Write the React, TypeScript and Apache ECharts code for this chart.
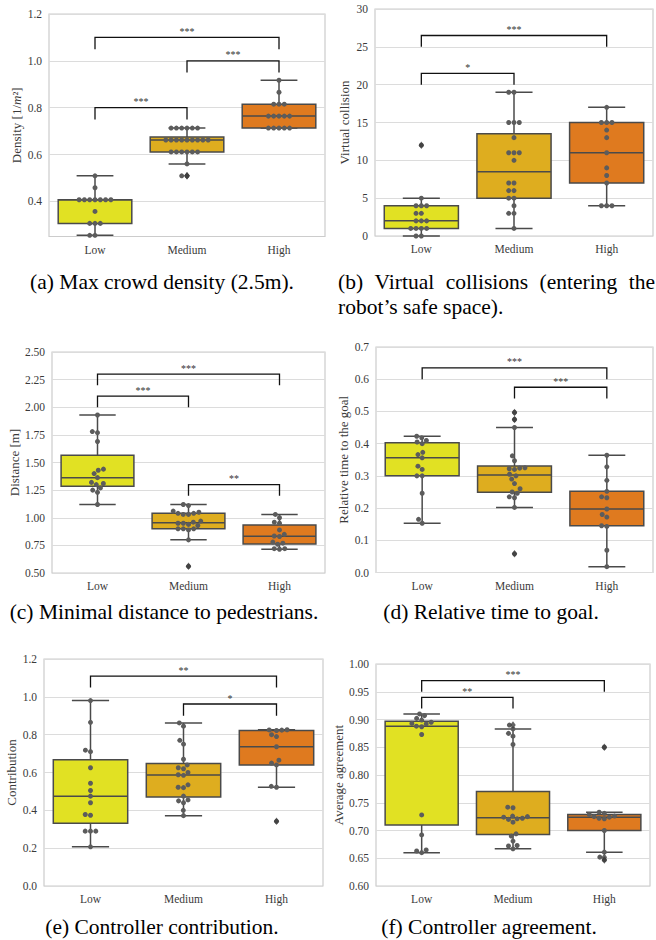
import React, { useEffect, useRef } from 'react';
import * as echarts from 'echarts';

const categories = ['Low', 'Medium', 'High'];
const groupColors = ['#E1E123', '#DEAD1F', '#DF7A1F'];

// (a) Max crowd density
const densityLow = [0.509, 0.458, 0.407, 0.407, 0.407, 0.407, 0.407, 0.407, 0.407, 0.357, 0.306, 0.306, 0.306, 0.255, 0.255];
const densityMedium = [0.713, 0.713, 0.713, 0.713, 0.713, 0.713, 0.662, 0.662, 0.662, 0.662, 0.662, 0.662, 0.662, 0.662, 0.662, 0.611, 0.611, 0.611, 0.611, 0.611, 0.611, 0.560, 0.509, 0.509];
const densityHigh = [0.917, 0.866, 0.815, 0.815, 0.815, 0.764, 0.764, 0.764, 0.764, 0.764, 0.713, 0.713, 0.713, 0.713, 0.713];

// (b) Virtual collisions
const collisionsLow = [12, 5, 4, 4, 4, 3, 3, 2, 2, 2, 1, 1, 1, 1, 0, 0];
const collisionsMedium = [19, 19, 15, 15, 15, 13, 11, 11, 11, 10, 7, 7, 6, 6, 5, 5, 4, 3, 3, 1];
const collisionsHigh = [17, 15, 15, 15, 14, 13, 11, 9, 8, 7, 4, 4, 4];

// (c) Minimal distance
const distanceLow = [1.93, 1.78, 1.77, 1.69, 1.44, 1.43, 1.40, 1.363, 1.32, 1.31, 1.30, 1.27, 1.25, 1.23, 1.12];
const distanceMedium = [1.12, 1.11, 1.06, 1.05, 1.04, 1.04, 1.03, 1.03, 0.97, 0.96, 0.95, 0.95, 0.94, 0.93, 0.90, 0.90, 0.90, 0.89, 0.80, 0.56];
const distanceHigh = [1.03, 1.00, 0.96, 0.95, 0.89, 0.85, 0.835, 0.83, 0.78, 0.77, 0.76, 0.72, 0.72, 0.715];

// (d) Relative time to goal
const timeLow = [0.423, 0.418, 0.41, 0.405, 0.40, 0.373, 0.366, 0.356, 0.33, 0.32, 0.30, 0.30, 0.246, 0.165, 0.153];
const timeMedium = [0.497, 0.475, 0.45, 0.362, 0.347, 0.325, 0.324, 0.322, 0.32, 0.305, 0.30, 0.29, 0.276, 0.26, 0.25, 0.246, 0.235, 0.232, 0.202, 0.058];
const timeHigh = [0.364, 0.328, 0.286, 0.252, 0.235, 0.232, 0.197, 0.18, 0.172, 0.145, 0.143, 0.069, 0.018];

// (e) Controller contribution
const contribLow = [0.98, 0.865, 0.718, 0.71, 0.625, 0.543, 0.505, 0.475, 0.44, 0.378, 0.374, 0.29, 0.29, 0.29, 0.207];
const contribMedium = [0.862, 0.845, 0.77, 0.75, 0.67, 0.64, 0.625, 0.62, 0.6, 0.588, 0.585, 0.535, 0.522, 0.52, 0.475, 0.455, 0.45, 0.44, 0.40, 0.372];
const contribHigh = [0.826, 0.825, 0.824, 0.822, 0.80, 0.79, 0.736, 0.665, 0.65, 0.64, 0.527, 0.522, 0.342];

// (f) Controller agreement
const agreeLow = [0.91, 0.907, 0.902, 0.899, 0.895, 0.893, 0.892, 0.888, 0.887, 0.873, 0.728, 0.692, 0.665, 0.663, 0.660];
const agreeMedium = [0.89, 0.883, 0.875, 0.87, 0.855, 0.742, 0.741, 0.726, 0.725, 0.724, 0.722, 0.721, 0.72, 0.715, 0.694, 0.69, 0.681, 0.673, 0.672, 0.667];
const agreeHigh = [0.85, 0.733, 0.731, 0.729, 0.726, 0.725, 0.724, 0.722, 0.721, 0.70, 0.661, 0.652, 0.647];

// significance brackets: [from, to, foot, top, label]
const bracketsA: [number, number, number, number, string][] = [[0, 1, 0.75, 0.8, '***'], [1, 2, 0.95, 1.0, '***'], [0, 2, 1.05, 1.1, '***']];
const bracketsB: [number, number, number, number, string][] = [[0, 1, 20, 21.5, '*'], [0, 2, 25, 26.5, '***']];
const bracketsC: [number, number, number, number, string][] = [[0, 1, 2.0, 2.1, '***'], [0, 2, 2.2, 2.3, '***'], [1, 2, 1.2, 1.3, '**']];
const bracketsD: [number, number, number, number, string][] = [[0, 2, 0.6, 0.635, '***'], [1, 2, 0.54, 0.575, '***']];
const bracketsE: [number, number, number, number, string][] = [[0, 2, 1.05, 1.11, '**'], [1, 2, 0.9, 0.962, '*']];
const bracketsF: [number, number, number, number, string][] = [[0, 1, 0.92, 0.94, '**'], [0, 2, 0.95, 0.97, '***']];

const captionA = '(a) Max crowd density (2.5m).';
const captionB1 = ['(b)', 'Virtual', 'collisions', '(entering', 'the'];
const captionB2 = 'robot\u2019s safe space).';
const captionC = '(c) Minimal distance to pedestrians.';
const captionD = '(d) Relative time to goal.';
const captionE = '(e) Controller contribution.';
const captionF = '(f) Controller agreement.';

const FONT = "'Liberation Serif', 'Times New Roman', serif";
const CAP_FONT = `21.5px ${FONT}`;
const TXT = '#3a3a3a';
const EDGE = '#4a4a4a';

type Panel = {
  groups: number[][];
  yName: string;
  min: number;
  max: number;
  interval?: number;
  ticks?: number[];
  decimals: number;
  box: [number, number, number, number];
  nameGap: number;
  brackets: [number, number, number, number, string][];
};

const panels: Panel[] = [
  { groups: [densityLow, densityMedium, densityHigh], yName: 'Density [1/{i|m}²]', min: 0.25, max: 1.2, ticks: [0.4, 0.6, 0.8, 1.0, 1.2], decimals: 1, box: [49, 14, 276, 222.5], nameGap: 26, brackets: bracketsA },
  { groups: [collisionsLow, collisionsMedium, collisionsHigh], yName: 'Virtual collision', min: 0, max: 30, interval: 5, decimals: 0, box: [375, 9, 278, 227], nameGap: 24, brackets: bracketsB },
  { groups: [distanceLow, distanceMedium, distanceHigh], yName: 'Distance [m]', min: 0.5, max: 2.5, interval: 0.25, decimals: 2, box: [52, 352, 273, 221], nameGap: 31, brackets: bracketsC },
  { groups: [timeLow, timeMedium, timeHigh], yName: 'Relative time to the goal', min: 0, max: 0.7, interval: 0.1, decimals: 1, box: [376, 347, 277, 225.5], nameGap: 26, brackets: bracketsD },
  { groups: [contribLow, contribMedium, contribHigh], yName: 'Contribution', min: 0, max: 1.2, interval: 0.2, decimals: 1, box: [44, 659, 279, 227], nameGap: 26, brackets: bracketsE },
  { groups: [agreeLow, agreeMedium, agreeHigh], yName: 'Average agreement', min: 0.6, max: 1.0, interval: 0.05, decimals: 2, box: [376, 664, 274, 222], nameGap: 30, brackets: bracketsF },
];

function pct(s: number[], p: number) {
  const pos = (s.length - 1) * p;
  const lo = Math.floor(pos);
  const hi = Math.ceil(pos);
  return s[lo] + (s[hi] - s[lo]) * (pos - lo);
}

function boxStats(arr: number[]) {
  const s = [...arr].sort((a, b) => a - b);
  const q1 = pct(s, 0.25), med = pct(s, 0.5), q3 = pct(s, 0.75);
  const iqr = q3 - q1;
  const lo = q1 - 1.5 * iqr, hi = q3 + 1.5 * iqr;
  const inl = s.filter((v) => v >= lo && v <= hi);
  return { box: [inl[0], q1, med, q3, inl[inl.length - 1]], fliers: s.filter((v) => v < lo || v > hi) };
}

// beeswarm layout in pixel space (k = pixels per unit)
function swarm(vals: number[], k: number, d: number) {
  const order = vals.map((_, i) => i).sort((a, b) => vals[a] - vals[b]);
  const placed: { x: number; y: number }[] = [];
  const out: number[] = new Array(vals.length).fill(0);
  for (const i of order) {
    const y = vals[i] * k;
    const neigh = placed.filter((p) => Math.abs(p.y - y) < d);
    const cands = [0];
    for (const p of neigh) {
      const dx = Math.sqrt(Math.max(0, d * d - (p.y - y) * (p.y - y)));
      cands.push(p.x - dx, p.x + dx);
    }
    cands.sort((a, b) => Math.abs(a) - Math.abs(b) || a - b);
    let x = 0;
    for (const c of cands) {
      if (neigh.every((p) => (p.x - c) * (p.x - c) + (p.y - y) * (p.y - y) >= d * d - 1e-6)) {
        x = c;
        break;
      }
    }
    placed.push({ x, y });
    out[i] = x;
  }
  return out;
}

function buildOption(wordWidths: number[]) {
  const grid: any[] = [];
  const xAxis: any[] = [];
  const yAxis: any[] = [];
  const series: any[] = [];

  panels.forEach((p, i) => {
    const [left, top, width, height] = p.box;
    grid.push({ left, top, width, height, show: true, borderColor: '#cccccc', borderWidth: 1.2, backgroundColor: 'transparent', containLabel: false, outerBoundsMode: 'none' });
    xAxis.push({
      type: 'category', gridIndex: i, data: categories,
      axisLine: { show: false }, axisTick: { show: false }, splitLine: { show: false },
      axisLabel: { color: TXT, fontFamily: FONT, fontSize: 11.5, margin: 7 },
    });
    const y: any = {
      type: 'value', gridIndex: i, min: p.min, max: p.max,
      axisLine: { show: false },
      axisTick: { show: false },
      splitLine: { show: true, lineStyle: { color: '#dcdcdc', width: 1.2 } },
      axisLabel: { color: TXT, fontFamily: FONT, fontSize: 11.5, margin: 7, formatter: (v: number) => v.toFixed(p.decimals) },
      name: p.yName, nameLocation: 'middle', nameGap: p.nameGap,
      nameTextStyle: { color: TXT, fontFamily: FONT, fontSize: 13, rich: { i: { fontStyle: 'italic', fontFamily: FONT, fontSize: 13, color: TXT } } },
    };
    if (p.interval !== undefined) y.interval = p.interval;
    if (p.ticks) {
      y.axisTick.customValues = p.ticks;
      y.axisLabel.customValues = p.ticks;
    }
    yAxis.push(y);

    const stats = p.groups.map(boxStats);
    const k = height / (p.max - p.min);

    series.push({
      type: 'custom', xAxisIndex: i, yAxisIndex: i, silent: true,
      data: stats.map((s, ci) => [ci, ...s.box]),
      encode: { x: 0, y: [1, 2, 3, 4, 5] },
      renderItem: (params: any, api: any) => {
        const ci = api.value(0);
        const c = (v: number) => api.coord([ci, v]);
        const pMin = c(api.value(1)), pQ1 = c(api.value(2)), pMed = c(api.value(3)), pQ3 = c(api.value(4)), pMax = c(api.value(5));
        const band = api.size([1, 0])[0];
        const bw = band * 0.8, cw = bw / 2, cx = pMed[0];
        const ls = { stroke: EDGE, lineWidth: 1.5 };
        return {
          type: 'group',
          children: [
            { type: 'line', shape: { x1: cx, y1: pQ3[1], x2: cx, y2: pMax[1] }, style: ls },
            { type: 'line', shape: { x1: cx, y1: pQ1[1], x2: cx, y2: pMin[1] }, style: ls },
            { type: 'line', shape: { x1: cx - cw / 2, y1: pMax[1], x2: cx + cw / 2, y2: pMax[1] }, style: ls },
            { type: 'line', shape: { x1: cx - cw / 2, y1: pMin[1], x2: cx + cw / 2, y2: pMin[1] }, style: ls },
            { type: 'rect', shape: { x: cx - bw / 2, y: pQ3[1], width: bw, height: pQ1[1] - pQ3[1] }, style: { fill: groupColors[ci], stroke: EDGE, lineWidth: 1.5 } },
            { type: 'line', shape: { x1: cx - bw / 2, y1: pMed[1], x2: cx + bw / 2, y2: pMed[1] }, style: ls },
          ],
        };
      },
    });

    const fl: number[][] = [];
    stats.forEach((s, ci) => s.fliers.forEach((v) => fl.push([ci, v])));
    series.push({
      type: 'scatter', xAxisIndex: i, yAxisIndex: i, silent: true,
      symbol: 'diamond', symbolSize: [5.5, 7.5], itemStyle: { color: '#3d3d3d' },
      data: fl,
    });

    const pts: number[][] = [];
    p.groups.forEach((g, ci) => {
      const dx = swarm(g, k, 5.3);
      g.forEach((v, j) => pts.push([ci, v, dx[j]]));
    });
    series.push({
      type: 'custom', xAxisIndex: i, yAxisIndex: i, silent: true,
      data: pts, encode: { x: 0, y: 1 },
      renderItem: (params: any, api: any) => {
        const c = api.coord([api.value(0), api.value(1)]);
        return { type: 'circle', shape: { cx: c[0] + api.value(2), cy: c[1], r: 2.5 }, style: { fill: '#5c5c5c' } };
      },
    });

    const labels = p.brackets.map((b) => b[4]);
    series.push({
      type: 'custom', xAxisIndex: i, yAxisIndex: i, silent: true,
      data: p.brackets.map((b) => [b[0], b[2], b[1], b[3]]),
      encode: { x: [0, 2], y: [1, 3] },
      renderItem: (params: any, api: any) => {
        const x1 = api.value(0), y0 = api.value(1), x2 = api.value(2), y1 = api.value(3);
        const a = api.coord([x1, y0]), b = api.coord([x1, y1]), c = api.coord([x2, y1]), d = api.coord([x2, y0]);
        return {
          type: 'group',
          children: [
            { type: 'polyline', shape: { points: [a, b, c, d] }, style: { stroke: '#111', lineWidth: 1.3, fill: null } },
            {
              type: 'text', x: (b[0] + c[0]) / 2, y: b[1] - 1,
              style: { text: labels[params.dataIndex], fill: '#333', font: `10px ${FONT}`, align: 'center', textAlign: 'center', verticalAlign: 'bottom', textVerticalAlign: 'bottom' },
            },
          ],
        };
      },
    });
  });

  const cap = (text: string, x: number, y: number, align = 'center') => ({
    type: 'text', x, y,
    style: { text, fill: '#000', font: CAP_FONT, align, textAlign: align, verticalAlign: 'middle', textVerticalAlign: 'middle' },
  });

  const bLeft = 338, bRight = 655;
  const total = wordWidths.reduce((s, w) => s + w, 0);
  const gap = (bRight - bLeft - total) / (captionB1.length - 1);
  const graphic: any[] = [
    cap(captionA, 162, 282),
    cap(captionC, 164, 612),
    cap(captionD, 491, 612),
    cap(captionE, 162, 927),
    cap(captionF, 489, 927),
    cap(captionB2, bLeft, 307, 'left'),
  ];
  let xx = bLeft;
  captionB1.forEach((w, i) => {
    graphic.push(cap(w, xx, 282, 'left'));
    xx += wordWidths[i] + gap;
  });

  return { animation: false, backgroundColor: '#ffffff', grid, xAxis, yAxis, series, graphic };
}

export default function App() {
  const ref = useRef<HTMLDivElement>(null);
  useEffect(() => {
    if (!ref.current) return;
    const ctx = document.createElement('canvas').getContext('2d')!;
    ctx.font = CAP_FONT;
    const widths = captionB1.map((w) => ctx.measureText(w).width);
    const chart = echarts.init(ref.current, null, { renderer: 'svg' });
    chart.setOption(buildOption(widths));
    return () => chart.dispose();
  }, []);
  return <div ref={ref} style={{ position: 'absolute', left: 0, top: 0, width: 656, height: 940, background: '#fff' }} />;
}
